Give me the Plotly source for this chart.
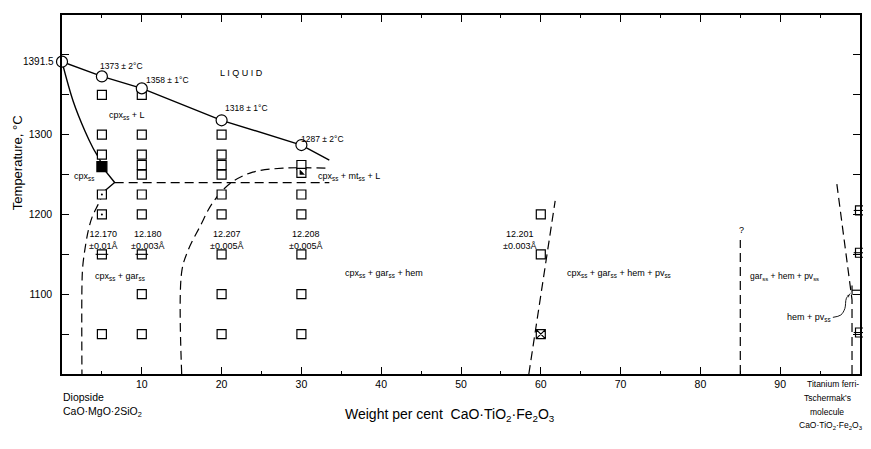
import plotly.graph_objects as go

# ---------------- data ----------------
# liquidus (solid line) and melting-point circles
liq_x = [0, 5, 10, 20, 30, 33.5]
liq_y = [1391.5, 1373, 1358, 1318, 1287, 1268]
melt_x = [0, 5, 10, 20, 30]
melt_y = [1391.5, 1373, 1358, 1318, 1287]
melt_text = ["1373 ± 2°C", "1358 ± 1°C", "1318 ± 1°C", "1287 ± 2°C"]
melt_text_x = [4.5, 10.3, 20.2, 29.7]
melt_text_y = [1386, 1368, 1333, 1295]

# solidus (solid)
sol_x = [0, 1.4, 2.9, 3.9, 4.8, 5.0]
sol_y = [1391.5, 1342, 1304, 1283, 1267, 1260]
junc_x = [5.0, 6.6, 5.3]
junc_y = [1260, 1240, 1229]

# dashed phase boundaries
b1_x = [5.3, 4.5, 3.75, 3.3, 2.9, 2.6, 2.5, 2.5]
b1_y = [1229, 1212, 1196, 1180, 1158, 1135, 1110, 1000]
dome_x = [15, 15, 15.8, 17.3, 18.9, 21.1, 23.9, 27.7, 33.5]
dome_y = [1000, 1128, 1155, 1185, 1215, 1239, 1253, 1258, 1258]
iso_x = [6.6, 33.5]
iso_y = [1240, 1240]
b60_x = [58.5, 61.8]
b60_y = [1000, 1217]
b85_x = [85, 85]
b85_y = [1000, 1168]
b99_x = [99.0, 99.0, 97.1]
b99_y = [1000, 1093, 1238]

# bracket and curved arrow for hem + pv_ss
brk_x = [99.0, 100]
brk_y = [1105, 1105]
brk_tick_x = [99.0, 99.0]
brk_tick_y = [1099, 1111]
arr_x = [96.6, 97.6, 98.1, 98.3, 98.9]
arr_y = [1071, 1074, 1082, 1095, 1102]

# experimental runs
open_x = [5, 5, 5, 5,
          10, 10, 10, 10, 10, 10, 10, 10, 10,
          20, 20, 20, 20, 20, 20, 20, 20, 20,
          30, 30, 30, 30, 30, 30,
          60, 60]
open_y = [1350, 1300, 1275, 1050,
          1350, 1300, 1275, 1262, 1250, 1225, 1200, 1100, 1050,
          1300, 1275, 1262, 1250, 1225, 1200, 1150, 1100, 1050,
          1262, 1225, 1200, 1150, 1100, 1050,
          1200, 1150]
dot_x = [5, 5]
dot_y = [1225, 1200]
bar_x = [5, 10, 100, 100, 100]
bar_y = [1150, 1150, 1205, 1152, 1052]
filled_x = [5]
filled_y = [1260]
half_x = [30]
half_y = [1252]
cross_x = [60]
cross_y = [1050]

# cell-dimension labels
cell_text = ["12.170<br>±0.01Å", "12.180<br>±0.003Å", "12.207<br>±0.005Å",
             "12.208<br>±0.005Å", "12.201<br>±0.003Å"]
cell_x = [5.1, 10.7, 20.6, 30.5, 57.3]
cell_y = [1168, 1168, 1168, 1168, 1168]

# phase field labels
field_text = ["L I Q U I D", "cpx<sub>ss</sub> + L", "cpx<sub>ss</sub>",
              "cpx<sub>ss</sub> + mt<sub>ss</sub> + L",
              "cpx<sub>ss</sub> + gar<sub>ss</sub>",
              "cpx<sub>ss</sub> + gar<sub>ss</sub> + hem",
              "cpx<sub>ss</sub> + gar<sub>ss</sub> + hem + pv<sub>ss</sub>",
              "gar<sub>ss</sub> + hem + pv<sub>ss</sub>",
              "?"]
field_x = [19.5, 5.6, 1.2, 31.8, 3.9, 35.2, 63.0, 86.0, 85.1]
field_y = [1377, 1324, 1248, 1248, 1122, 1126, 1126, 1122, 1180]
field_size = [9, 9, 9, 9, 9, 9, 9, 8.5, 9]

# end-member labels (one entry per printed line)
left_lines = ["Diopside", "CaO·MgO·2SiO<sub>2</sub>"]
right_lines = ["Titanium ferri-", "Tschermak's", "molecule",
               "CaO·TiO<sub>2</sub>·Fe<sub>2</sub>O<sub>3</sub>"]

x_ticks = [10, 20, 30, 40, 50, 60, 70, 80, 90]
y_ticks = [1050, 1100, 1150, 1200, 1250, 1300, 1350, 1400]
y_tick_text = ["", "1100", "", "1200", "", "1300", "", ""]

FONT = "Liberation Sans"
BLK = "black"

fig = go.Figure()

def line(x, y, dash=None, width=1.4, shape="linear"):
    fig.add_trace(go.Scatter(x=x, y=y, mode="lines", hoverinfo="skip",
                             line=dict(color=BLK, width=width, dash=dash, shape=shape),
                             showlegend=False, cliponaxis=False))

DASH = "9px,5px"
line(liq_x, liq_y)
line(sol_x, sol_y, shape="spline")
line(junc_x, junc_y)
line(b1_x, b1_y, dash=DASH, width=1.2, shape="spline")
line(dome_x, dome_y, dash=DASH, width=1.2, shape="spline")
line(iso_x, iso_y, dash=DASH, width=1.2)
line(b60_x, b60_y, dash=DASH, width=1.2)
line(b85_x, b85_y, dash=DASH, width=1.2)
line(b99_x, b99_y, dash=DASH, width=1.2)
line(brk_x, brk_y, width=1.2)
line(brk_tick_x, brk_tick_y, width=1.2)

# curved arrow
fig.add_trace(go.Scatter(x=arr_x, y=arr_y, mode="lines+markers", hoverinfo="skip",
                         line=dict(color=BLK, width=0.9, shape="spline"),
                         marker=dict(symbol="arrow", angleref="previous",
                                     size=[0] * (len(arr_x) - 1) + [6], color=BLK),
                         showlegend=False, cliponaxis=False))

def markers(x, y, symbol, size=9, fill="white", lw=1.2):
    fig.add_trace(go.Scatter(x=x, y=y, mode="markers", hoverinfo="skip",
                             marker=dict(symbol=symbol, size=size, color=fill,
                                         line=dict(color=BLK, width=lw)),
                             showlegend=False, cliponaxis=False))

markers(open_x, open_y, "square")
markers(dot_x, dot_y, "square")
markers(dot_x, dot_y, "circle", size=2, fill=BLK, lw=0)
markers(bar_x, bar_y, "square")
fig.add_trace(go.Scatter(x=bar_x, y=bar_y, mode="markers", hoverinfo="skip",
                         marker=dict(symbol="line-ew", size=9, line=dict(color=BLK, width=1.1)),
                         showlegend=False, cliponaxis=False))
markers(filled_x, filled_y, "square", size=10, fill=BLK)
markers(half_x, half_y, "square")
markers(half_x, half_y, "triangle-sw", size=6, fill=BLK, lw=0)
markers(cross_x, cross_y, "square-x")
markers(melt_x, melt_y, "circle", size=11)

# plot area in page pixels (page body has an 8px margin)
PL, PR, PT, PB = 62, 860, 13, 374
def px(xp):
    return (xp - PL) / (PR - PL)
def py(yp):
    return (PB - yp) / (PB - PT)

ann = []
for t, x, y in zip(melt_text, melt_text_x, melt_text_y):
    ann.append(dict(x=x, y=y, text=t, xanchor="left", yanchor="middle",
                    showarrow=False, font=dict(size=8.5)))
for t, x, y in zip(cell_text, cell_x, cell_y):
    ann.append(dict(x=x, y=y, text=t, xanchor="center", yanchor="middle",
                    showarrow=False, font=dict(size=9)))
for t, x, y, s in zip(field_text, field_x, field_y, field_size):
    ann.append(dict(x=x, y=y, text=t, xanchor="center" if t == "?" else "left",
                    yanchor="middle", showarrow=False, font=dict(size=s)))
ann.append(dict(x=96.6, y=1071, text="hem + pv<sub>ss</sub>", xanchor="right",
                yanchor="middle", showarrow=False, font=dict(size=9)))
ann.append(dict(xref="paper", x=0, xshift=-6, y=1391.5, text="1391.5", xanchor="right",
                yanchor="middle", showarrow=False, font=dict(size=10)))

for t, xp, yp in zip(left_lines, [61, 61], [397, 412]):
    ann.append(dict(xref="paper", yref="paper", x=px(xp), y=py(yp), text=t,
                    xanchor="left", yanchor="middle", showarrow=False,
                    font=dict(size=10.5)))
for t, xp, yp in zip(right_lines, [861, 853, 846, 865], [384, 398, 412, 426]):
    ann.append(dict(xref="paper", yref="paper", x=px(xp), y=py(yp), text=t,
                    xanchor="right", yanchor="middle", showarrow=False,
                    font=dict(size=8.5)))

ann.append(dict(xref="paper", yref="paper", x=px(450), y=py(415),
                text="Weight per cent  CaO·TiO<sub>2</sub>·Fe<sub>2</sub>O<sub>3</sub>",
                xanchor="center", yanchor="middle", showarrow=False, font=dict(size=14)))
ann.append(dict(xref="paper", yref="paper", x=px(17), y=py(162), text="Temperature, °C",
                textangle=-90, xanchor="center", yanchor="middle", showarrow=False,
                font=dict(size=13)))

OFF = 8  # browser default body margin
fig.update_layout(
    width=871 - OFF, height=449 - OFF,
    margin=dict(l=PL - OFF, r=871 - PR, t=PT - OFF, b=449 - PB),
    plot_bgcolor="white", paper_bgcolor="white",
    font=dict(family=FONT, color=BLK, size=10),
    annotations=ann,
    showlegend=False,
)
fig.update_xaxes(range=[0, 100], showgrid=False, zeroline=False,
                 showline=True, linecolor=BLK, linewidth=1.6, mirror="ticks",
                 ticks="inside", ticklen=7, tickwidth=1, tickcolor=BLK,
                 tickvals=x_ticks, ticktext=[str(v) for v in x_ticks],
                 tickfont=dict(size=10.5),
                 minor=dict(dtick=5, ticks="inside", ticklen=3, tickcolor=BLK, showgrid=False))
fig.update_yaxes(range=[1000, 1450], showgrid=False, zeroline=False,
                 showline=True, linecolor=BLK, linewidth=1.6, mirror="ticks",
                 ticks="inside", ticklen=7, tickwidth=1, tickcolor=BLK,
                 tickvals=y_ticks, ticktext=y_tick_text, tickfont=dict(size=10.5),
                 ticklabelstandoff=6)

fig.write_html("out.html")
